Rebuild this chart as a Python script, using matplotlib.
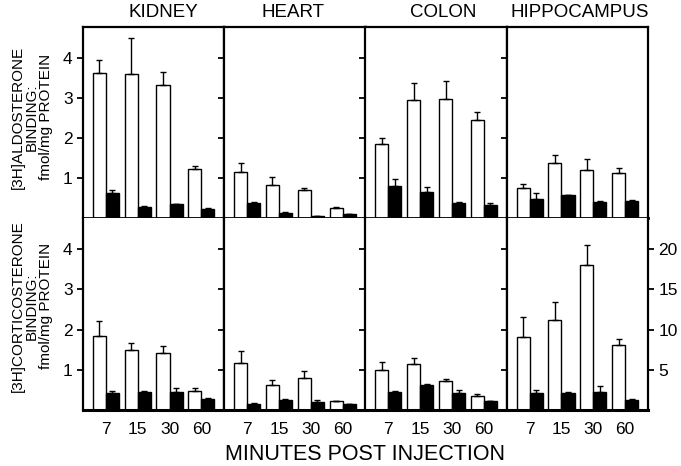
import numpy as np
import matplotlib
matplotlib.use("Agg")
import matplotlib.pyplot as plt

# --- data ---
tissues = ["KIDNEY", "HEART", "COLON", "HIPPOCAMPUS"]
minutes = ["7", "15", "30", "60"]

# [3H]aldosterone binding (top row), fmol/mg protein
aldo_open = [[3.62, 3.60, 3.33, 1.23],
             [1.15, 0.82, 0.70, 0.25],
             [1.85, 2.95, 2.97, 2.45],
             [0.74, 1.37, 1.21, 1.13]]
aldo_open_err = [[0.33, 0.90, 0.32, 0.07],
                 [0.23, 0.20, 0.05, 0.02],
                 [0.15, 0.42, 0.45, 0.20],
                 [0.11, 0.20, 0.26, 0.12]]
aldo_filled = [[0.62, 0.27, 0.34, 0.22],
               [0.38, 0.13, 0.04, 0.10],
               [0.80, 0.66, 0.38, 0.32],
               [0.47, 0.57, 0.41, 0.43]]
aldo_filled_err = [[0.08, 0.03, 0.01, 0.04],
                   [0.01, 0.01, 0.01, 0.01],
                   [0.17, 0.12, 0.01, 0.06],
                   [0.15, 0.01, 0.01, 0.02]]

# [3H]corticosterone binding (bottom row); hippocampus on the right-hand scale
cort_open = [[1.85, 1.50, 1.42, 0.48],
             [1.18, 0.62, 0.80, 0.23],
             [1.00, 1.15, 0.72, 0.34],
             [9.1, 11.2, 18.0, 8.1]]
cort_open_err = [[0.37, 0.18, 0.18, 0.06],
                 [0.29, 0.12, 0.17, 0.00],
                 [0.20, 0.15, 0.04, 0.06],
                 [2.5, 2.3, 2.5, 0.7]]
cort_filled = [[0.42, 0.46, 0.45, 0.28],
               [0.15, 0.25, 0.19, 0.14],
               [0.46, 0.62, 0.42, 0.22],
               [2.1, 2.1, 2.3, 1.2]]
cort_filled_err = [[0.06, 0.01, 0.09, 0.02],
                   [0.02, 0.02, 0.05, 0.01],
                   [0.02, 0.03, 0.08, 0.01],
                   [0.4, 0.1, 0.7, 0.2]]

yticks_left = [1, 2, 3, 4]
yticks_right = [5, 10, 15, 20]

plt.rcParams['font.family'] = ['Liberation Sans', 'DejaVu Sans']

W, H = 681, 466
fig = plt.figure(figsize=(W / 100, H / 100), dpi=100)

x0, x1 = 83, 648
y_top, y_mid, y_bot = 27, 218, 410
pw = (x1 - x0) / 4
x = np.arange(4)
bw = 0.41
lw = 1.6


def draw_panel(ax, opn, opn_err, fil, fil_err, ymax, ticks):
    ax.bar(x - bw / 2, opn, bw, color='white', edgecolor='black', linewidth=1.0, zorder=2)
    ax.bar(x + bw / 2, fil, bw, color='black', edgecolor='black', linewidth=1.0, zorder=2)
    ax.errorbar(x - bw / 2, opn, yerr=[np.zeros(4), opn_err], fmt='none',
                ecolor='black', elinewidth=1.0, capsize=2.5, capthick=1.0, zorder=3)
    ax.errorbar(x + bw / 2, fil, yerr=[np.zeros(4), fil_err], fmt='none',
                ecolor='black', elinewidth=1.0, capsize=2.5, capthick=1.0, zorder=3)
    ax.set_xlim(-0.72, 3.72)
    ax.set_ylim(0, ymax)
    ax.set_yticks(ticks)
    ax.tick_params(axis='y', direction='out', length=4, width=1.3, labelsize=12.5)
    for s in ax.spines.values():
        s.set_linewidth(lw)


for i in range(4):
    left = (x0 + i * pw) / W
    w = pw / W
    ax_t = fig.add_axes([left, 1 - y_mid / H, w, (y_mid - y_top) / H])
    ax_b = fig.add_axes([left, 1 - y_bot / H, w, (y_bot - y_mid) / H])

    draw_panel(ax_t, aldo_open[i], aldo_open_err[i], aldo_filled[i], aldo_filled_err[i], 4.78, yticks_left)
    if i < 3:
        draw_panel(ax_b, cort_open[i], cort_open_err[i], cort_filled[i], cort_filled_err[i], 4.78, yticks_left)
    else:
        draw_panel(ax_b, cort_open[i], cort_open_err[i], cort_filled[i], cort_filled_err[i], 23.9, yticks_right)
        ax_b.tick_params(axis='y', right=True, labelright=True)

    ax_t.set_xticks([])
    ax_b.set_xticks(x)
    ax_b.set_xticklabels(minutes, fontsize=12.5)
    ax_b.tick_params(axis='x', length=0, pad=9)
    ax_b.spines['top'].set_visible(False)
    ax_b.spines['bottom'].set_linewidth(2.2)
    ax_t.spines['bottom'].set_linewidth(2.0)

    if i > 0:
        ax_t.tick_params(axis='y', labelleft=False)
        ax_b.tick_params(axis='y', labelleft=False)

    title_x = [0.57, 0.49, 0.55, 0.52][i]
    ax_t.text(title_x, 1.03, tissues[i], transform=ax_t.transAxes,
              ha='center', va='bottom', fontsize=13.5)

fig.text(32 / W, 1 - 117 / H, "[3H]ALDOSTERONE\nBINDING:\nfmol/mg PROTEIN",
         rotation=90, ha='center', va='center', fontsize=11, linespacing=1.0)
fig.text(32 / W, 1 - 306 / H, "[3H]CORTICOSTERONE\nBINDING:\nfmol/mg PROTEIN",
         rotation=90, ha='center', va='center', fontsize=11, linespacing=1.0)
fig.text((x0 + x1) / 2 / W, 1 - 455 / H, "MINUTES POST INJECTION",
         ha='center', va='center', fontsize=15.5)

fig.savefig("out.png", dpi=100)
